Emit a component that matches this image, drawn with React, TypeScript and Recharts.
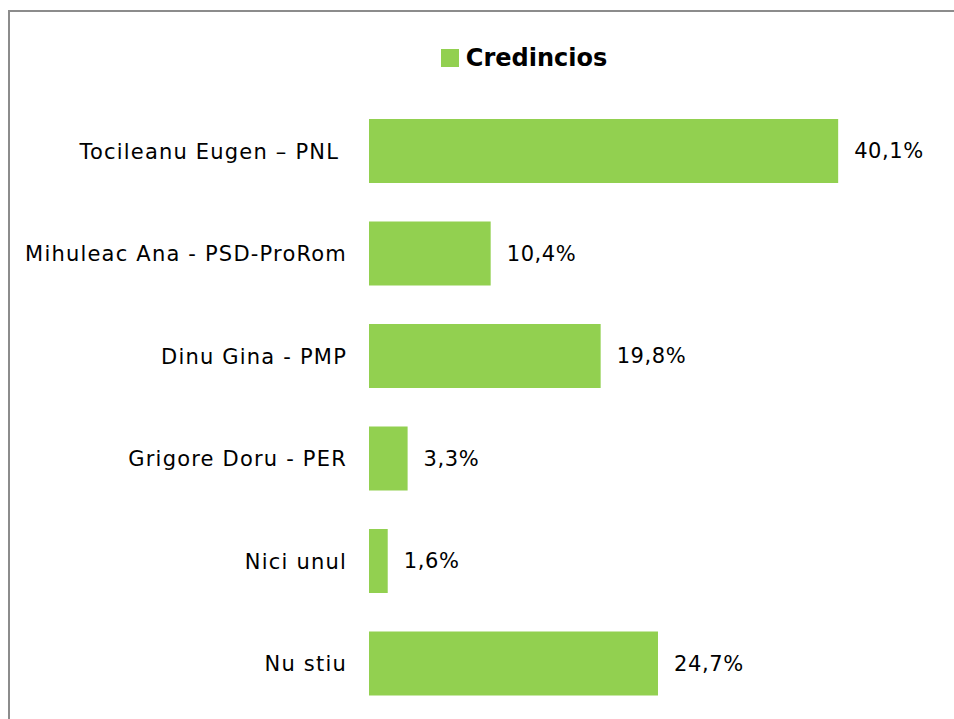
import { BarChart, Bar, XAxis, YAxis, Legend, LabelList } from "recharts";

const candidates = [
    "Tocileanu Eugen – PNL\u00a0",
    "Mihuleac Ana - PSD-ProRom",
    "Dinu Gina - PMP",
    "Grigore Doru - PER",
    "Nici unul",
    "Nu stiu",
];
const credincios = [40.1, 10.4, 19.8, 3.3, 1.6, 24.7];
const seriesName = "Credincios";

const data = candidates.map((name, i) => ({ name, value: credincios[i] }));

const FONT = "'DejaVu Sans', sans-serif";
const GREEN = "#92D050";

const fmt = (v: number) => `${v.toFixed(1).replace('.', ',')}%`;

function LegendBox() {
    return (
        <div style={{ display: 'flex', justifyContent: 'center', alignItems: 'center', fontFamily: FONT, paddingLeft: 84 }}>
            <span style={{ width: 18, height: 18, background: GREEN, marginRight: 7, display: 'inline-block' }} />
            <span style={{ fontSize: 24, fontWeight: 700, color: '#000' }}>{seriesName}</span>
        </div>
    );
}

export default function App() {
    return (
        <div style={{ position: 'fixed', left: 8, top: 10, right: 0, bottom: 0, overflow: 'hidden', borderLeft: '2px solid #8c8c8c', borderTop: '2px solid #8c8c8c', background: '#fff' }}>
            <BarChart
                width={944}
                height={707}
                data={data}
                layout="vertical"
                margin={{ top: 60, right: 0, left: 0, bottom: 4 }}
            >
                <XAxis type="number" domain={[0, 50]} hide />
                <YAxis
                    type="category"
                    dataKey="name"
                    width={359}
                    axisLine={false}
                    tickLine={false}
                    tickMargin={16}
                    tick={{ fill: '#000', fontSize: 21, fontFamily: FONT, letterSpacing: 1.2 }}
                />
                <Legend verticalAlign="top" content={() => <LegendBox />} wrapperStyle={{ top: 32 }} />
                <Bar dataKey="value" name={seriesName} fill={GREEN} barSize={64} isAnimationActive={false}>
                    <LabelList
                        dataKey="value"
                        position="right"
                        offset={16}
                        formatter={(v: number) => fmt(v)}
                        style={{ fill: '#000', fontSize: 21, fontFamily: FONT, letterSpacing: 0.6 }}
                    />
                </Bar>
            </BarChart>
        </div>
    );
}
